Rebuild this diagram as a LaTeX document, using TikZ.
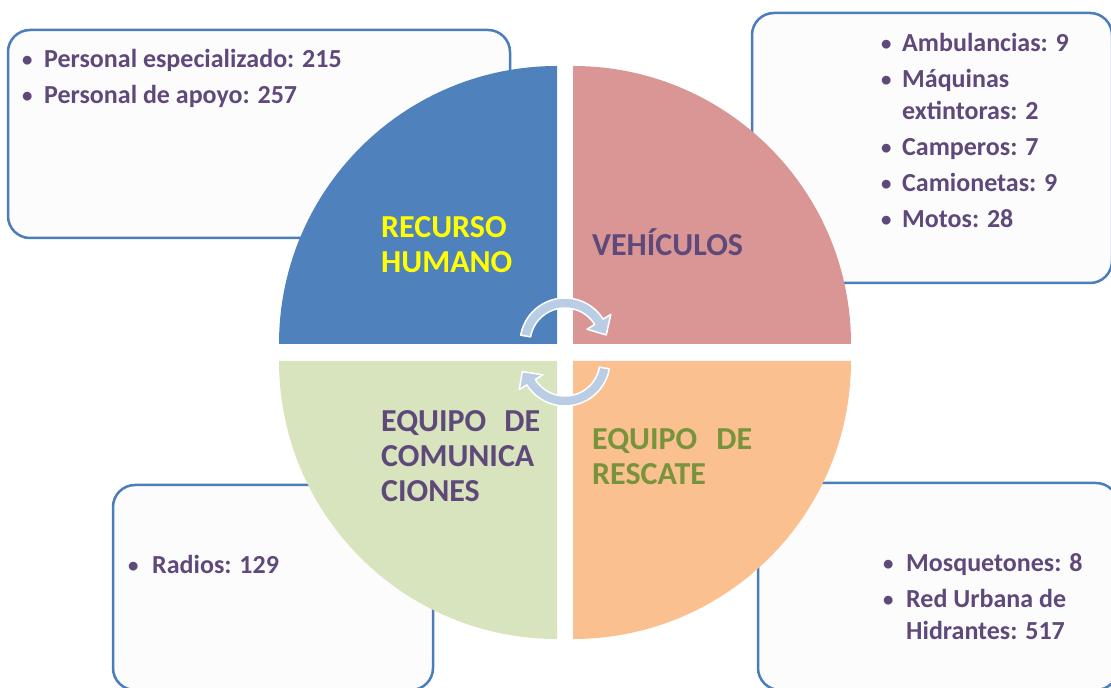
\documentclass[tikz,border=0pt]{standalone}
\usepackage{fontspec}
\setmainfont{Carlito}
\usepackage{graphicx}
\usepackage{tikz}

\definecolor{azul}{HTML}{4F81BD}
\definecolor{rosa}{HTML}{D99694}
\definecolor{naranja}{HTML}{FAC090}
\definecolor{verdeclaro}{HTML}{D7E4BD}
\definecolor{morado}{HTML}{5F497A}
\definecolor{verdeosc}{HTML}{77933C}
\definecolor{amarillo}{HTML}{FFFF00}
\definecolor{borde}{HTML}{4A7EBB}
\definecolor{flecha}{HTML}{B9CDE5}
\definecolor{fondocaja}{HTML}{FCFCFD}

\newcommand{\vineta}{\raisebox{0.12ex}{\scalebox{0.8}{\textbullet}}}

\begin{document}
\begin{tikzpicture}[x=1pt,y=1pt,
    caja/.style={draw=borde, line width=2.5pt, rounded corners=22pt, fill=fondocaja},
    titulo/.style={anchor=base west, inner sep=0pt, font=\fontsize{32}{35}\selectfont\bfseries},
    lista/.style={anchor=base west, inner sep=0pt, text=morado, font=\fontsize{26}{32}\selectfont\bfseries},
    giro/.style={fill=flecha, draw=white, line width=1.5pt, line join=round}]
    \useasboundingbox (0,0) rectangle (1111,688);
    \draw[caja] (8,450) rectangle (510,658);
    \draw[caja] (752,405) rectangle (1112,675);
    \draw[caja] (113,-2) rectangle (433,203);
    \draw[caja] (758,-2) rectangle (1118,205);
    \fill[azul] (557,344) -- ++(-278,0) arc[start angle=180, end angle=90, radius=278] -- cycle;
    \fill[rosa] (573,344) -- ++(0,278) arc[start angle=90, end angle=0, radius=278] -- cycle;
    \fill[naranja] (573,327) -- ++(278,0) arc[start angle=0, end angle=-90, radius=278] -- cycle;
    \fill[verdeclaro] (557,327) -- ++(0,-278) arc[start angle=270, end angle=180, radius=278] -- cycle;
    \begin{scope}[shift={(565,345)}]
        \filldraw[giro] (170:45) arc[start angle=170, end angle=32, radius=45] -- (32:54) -- (11:42)
            -- (32:26) -- (32:35) arc[start angle=32, end angle=170, radius=35] -- cycle;
    \end{scope}
    \begin{scope}[shift={(565,327)}]
        \filldraw[giro] (-10:45) arc[start angle=-10, end angle=-148, radius=45] -- (-148:54) -- (-166:44)
            -- (-148:26) -- (-148:35) arc[start angle=-148, end angle=-10, radius=35] -- cycle;
    \end{scope}
    \node (humano) [titulo, text=amarillo] at (381,450)
        {\begin{tabular}[t]{@{}l@{}}RECURSO\\HUMANO\end{tabular}};
    \node (vehiculos) [titulo, text=morado] at (592,432) {VEHÍCULOS};
    \node (comunica) [titulo, text=morado] at (381,256)
        {\begin{tabular}[t]{@{}l@{}}\hbox to 159pt{EQUIPO\hfill DE}\\COMUNICA\\CIONES\end{tabular}};
    \node (rescate) [titulo, text=verdeosc] at (592,238)
        {\begin{tabular}[t]{@{}l@{}}\hbox to 160pt{EQUIPO\hfill DE}\\RESCATE\end{tabular}};
    \node (personal) [lista] at (22,620)
        {\begin{tabular}[t]{@{}p{22pt}@{}l@{}}
            \vineta & Personal especializado: 215\\[4pt]
            \vineta & Personal de apoyo: 257
        \end{tabular}};
    \node (flota) [lista] at (881,636)
        {\begin{tabular}[t]{@{}p{21pt}@{}l@{}}
            \vineta & Ambulancias: 9\\[4pt]
            \vineta & Máquinas\\
                    & extintoras: 2\\[4pt]
            \vineta & Camperos: 7\\[4pt]
            \vineta & Camionetas: 9\\[4pt]
            \vineta & Motos: 28
        \end{tabular}};
    \node (radios) [lista] at (128,114)
        {\begin{tabular}[t]{@{}p{24pt}@{}l@{}}
            \vineta & Radios: 129
        \end{tabular}};
    \node (rescates) [lista] at (883,116)
        {\begin{tabular}[t]{@{}p{23pt}@{}l@{}}
            \vineta & Mosquetones: 8\\[4pt]
            \vineta & Red Urbana de\\
                    & Hidrantes: 517
        \end{tabular}};
\end{tikzpicture}
\end{document}
